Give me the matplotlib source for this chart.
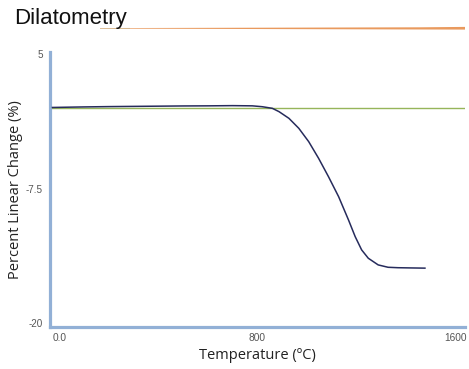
import matplotlib
matplotlib.use("Agg")
import matplotlib.pyplot as plt
from matplotlib.patches import Polygon
import numpy as np

# Data
temperature = [-28, 100, 200, 300, 400, 500, 600, 700, 780, 820, 861, 888, 928, 968,
               1008, 1048, 1088, 1129, 1169, 1196, 1222, 1249, 1289, 1329, 1369, 1420, 1478]
linear_change = [0.05, 0.1, 0.13, 0.15, 0.17, 0.19, 0.2, 0.22, 0.2, 0.12, -0.03, -0.34, -0.96, -1.89,
                 -3.13, -4.68, -6.39, -8.25, -10.42, -11.97, -13.2, -13.98, -14.6, -14.82, -14.86, -14.88, -14.9]
reference_level = 0.0
x_ticks = [0, 800, 1600]
x_tick_labels = ["0.0", "800", "1600"]
y_ticks = [5, -7.5, -20]
y_tick_labels = ["5", "-7.5", "-20"]

W, H = 469, 369
fig = plt.figure(figsize=(W / 100, H / 100), dpi=100)
ax = fig.add_axes([50 / W, 1 - 326.5 / H, (465 - 50) / W, (326.5 - 52) / H])

ax.plot(temperature, linear_change, color="#262b5c", lw=1.1, zorder=3,
        solid_joinstyle="round")
ax.axhline(reference_level, color="#96b55a", lw=1.0, zorder=2)

ax.set_xlim(-38, 1640)
ax.set_ylim(-20.33, 5.21)

spine_col = "#92b0d6"
for s in ["top", "right"]:
    ax.spines[s].set_visible(False)
for s in ["left", "bottom"]:
    ax.spines[s].set_color(spine_col)
    ax.spines[s].set_linewidth(2.3)

ax.set_xticks(x_ticks)
ax.set_xticklabels(x_tick_labels)
ax.set_yticks(y_ticks)
ax.set_yticklabels(y_tick_labels)
ax.tick_params(length=0, colors="#555555")
ax.tick_params(axis="x", labelsize=7.3, pad=5)
ax.tick_params(axis="y", labelsize=7.1, pad=5)
for lab in ax.get_xticklabels() + ax.get_yticklabels():
    lab.set_fontfamily(["Liberation Sans", "DejaVu Sans"])

ax.set_xlabel("Temperature (ºC)", fontsize=10.5, family=["Open Sans", "DejaVu Sans"],
              color="#222222", labelpad=3)
ax.set_ylabel("Percent Linear Change (%)", fontsize=10.5, family=["Open Sans", "DejaVu Sans"],
              color="#222222", labelpad=2)

# Title
fig.text(14 / W, 1 - 24 / H, "Dilatometry", fontsize=16,
         family=["Liberation Sans", "DejaVu Sans"],
         color="#111111", ha="left", va="baseline")

# Decorative orange rule under the title, widening to the right
def fy(py):
    return 1 - py / H

rule = Polygon([(100 / W, fy(28.6)), (465 / W, fy(29.6)), (465 / W, fy(26.9)),
                (420 / W, fy(27.3)), (100 / W, fy(28.1))],
               closed=True, facecolor="#e99a5e", edgecolor="none",
               transform=fig.transFigure)
fig.add_artist(rule)
tan = Polygon([(100 / W, fy(28.6)), (130 / W, fy(28.75)), (130 / W, fy(27.95)), (100 / W, fy(28.1))],
              closed=True, facecolor="#cdb58a", edgecolor="none", transform=fig.transFigure)
fig.add_artist(tan)

fig.savefig("out.png", dpi=100)
